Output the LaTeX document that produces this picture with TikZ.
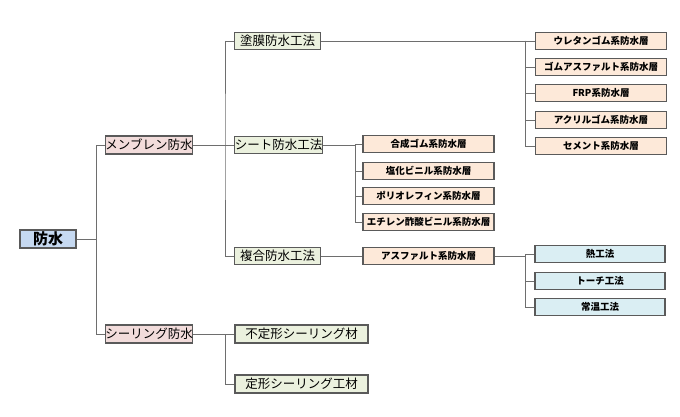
\documentclass[tikz,border=0pt]{standalone}
\usepackage{fontspec}
\setmainfont{Noto Sans CJK JP}
\definecolor{bordc}{HTML}{5A5A5A}
\definecolor{linec}{HTML}{6E6E6E}
\definecolor{rootf}{HTML}{C6D9F1}
\definecolor{pinkf}{HTML}{F2DCDB}
\definecolor{greenf}{HTML}{EBF1DE}
\definecolor{peachf}{HTML}{FDE9D9}
\definecolor{bluef}{HTML}{DAEEF3}
\tikzset{
  box/.style={draw=bordc, line width=1.4pt, inner sep=0pt, align=center},
  rootbox/.style={box, fill=rootf, minimum width=56pt, minimum height=18pt, font=\fontsize{15}{15}\selectfont\bfseries},
  lvlone/.style={box, fill=pinkf, minimum width=87pt, minimum height=18pt, font=\fontsize{12.5}{12.5}\selectfont},
  lvltwo/.style={box, fill=greenf, minimum width=86pt, minimum height=17pt, font=\fontsize{12.5}{12.5}\selectfont},
  sealbox/.style={box, fill=greenf, minimum width=133pt, minimum height=18pt, font=\fontsize{12.5}{12.5}\selectfont},
  layerbox/.style={box, fill=peachf, minimum width=131pt, minimum height=17pt, font=\fontsize{9.5}{9.5}\selectfont\bfseries},
  heatbox/.style={box, fill=bluef, minimum width=130pt, minimum height=17pt, font=\fontsize{9.5}{9.5}\selectfont\bfseries},
  conn/.style={draw=linec, line width=0.9pt}
}
\begin{document}
\begin{tikzpicture}[x=1pt,y=-1pt]
\useasboundingbox (0,0) rectangle (680,417);
% nodes
\node[rootbox] (root) at (48,239) {防水};
\node[lvlone] (memb) at (149,145) {メンブレン防水};
\node[lvlone] (seal) at (149,334) {シーリング防水};
\node[lvltwo] (tomaku) at (277.5,41) {塗膜防水工法};
\node[lvltwo] (sheet) at (278.5,145) {シート防水工法};
\node[lvltwo] (fukugo) at (277.5,256) {複合防水工法};
\node[sealbox] (futei) at (301.5,334) {不定形シーリング材};
\node[sealbox] (teikei) at (301.5,384) {定形シーリング工材};
\node[layerbox] (t1) at (601,41) {ウレタンゴム系防水層};
\node[layerbox] (t2) at (601,67) {ゴムアスファルト系防水層};
\node[layerbox] (t3) at (601,93) {FRP系防水層};
\node[layerbox] (t4) at (601,120) {アクリルゴム系防水層};
\node[layerbox] (t5) at (601,146) {セメント系防水層};
\node[layerbox] (s1) at (428.5,144) {合成ゴム系防水層};
\node[layerbox] (s2) at (428.5,171) {塩化ビニル系防水層};
\node[layerbox] (s3) at (428.5,196) {ポリオレフィン系防水層};
\node[layerbox] (s4) at (428.5,222) {エチレン酢酸ビニル系防水層};
\node[layerbox] (asph) at (428.5,256) {アスファルト系防水層};
\node[heatbox] (h1) at (600,254) {熱工法};
\node[heatbox] (h2) at (600,281) {トーチ工法};
\node[heatbox] (h3) at (600,307) {常温工法};
% junctions
\coordinate (j0) at (96,239);
\coordinate (j1) at (225,145);
\coordinate (j1t) at (225,41);
\coordinate (j2) at (525,41);
\coordinate (j3) at (355,145);
\coordinate (j4) at (525,256);
\coordinate (j5) at (225,334);
% connectors
\draw[conn] (root.east) -- (j0);
\draw[conn] (j0) |- (memb.west);
\draw[conn] (j0) |- (seal.west);
\draw[conn] (memb.east) -- (sheet.west);
\draw[conn] (j1t) -- (j1) |- (fukugo.west);
\draw[conn] (j1t) -- (tomaku.west);
\draw[conn] (tomaku.east) -- (t1.west);
\draw[conn] (j2) |- (t2.west);
\draw[conn] (j2) |- (t3.west);
\draw[conn] (j2) |- (t4.west);
\draw[conn] (j2) |- (t5.west);
\draw[conn] (sheet.east) -- (j3) |- (s1.west);
\draw[conn] (j3) |- (s2.west);
\draw[conn] (j3) |- (s3.west);
\draw[conn] (j3) |- (s4.west);
\draw[conn] (fukugo.east) -- (asph.west);
\draw[conn] (asph.east) -- (j4) |- (h1.west);
\draw[conn] (j4) |- (h2.west);
\draw[conn] (j4) |- (h3.west);
\draw[conn] (seal.east) -- (futei.west);
\draw[conn] (j5) |- (teikei.west);
\end{tikzpicture}
\end{document}
